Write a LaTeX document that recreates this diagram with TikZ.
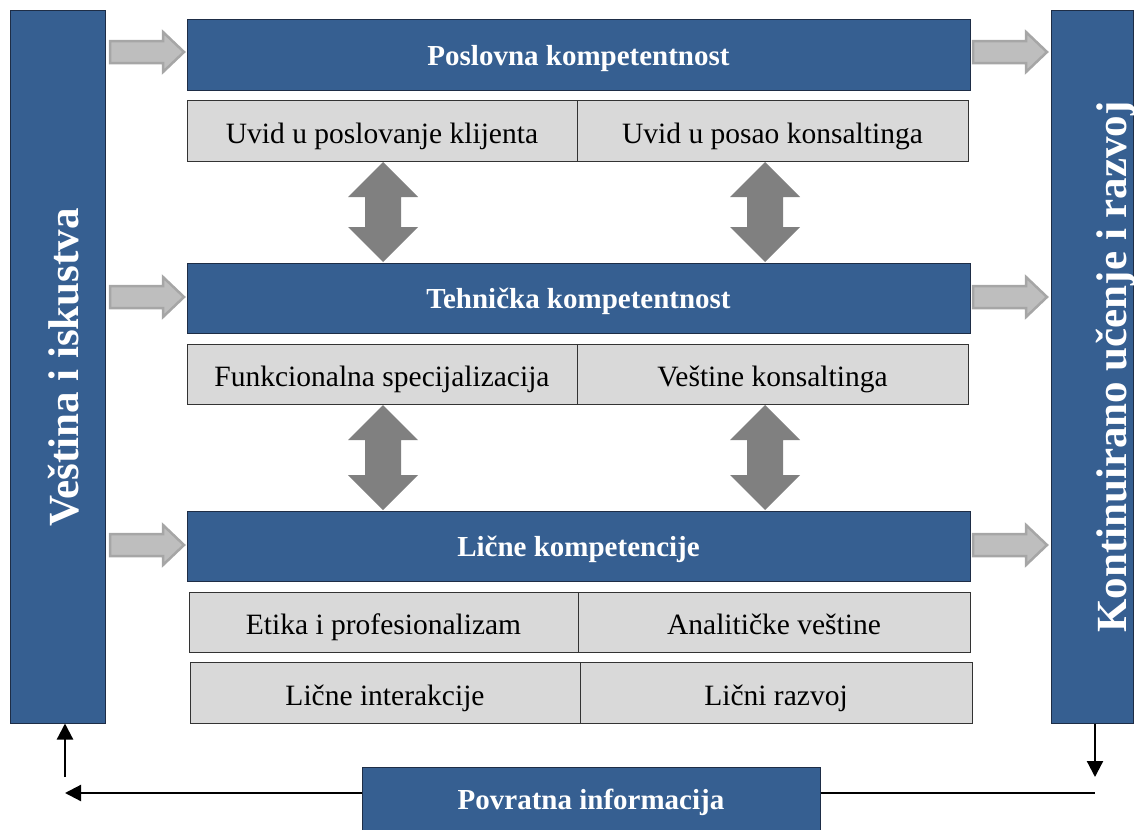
\documentclass[tikz,border=0pt]{standalone}
\usepackage{fontspec}
\setmainfont{Liberation Serif}
\usetikzlibrary{arrows.meta,positioning}
\definecolor{bluebox}{RGB}{54,95,145}
\definecolor{blueline}{RGB}{30,45,70}
\definecolor{graybox}{RGB}{217,217,217}
\definecolor{garrowfill}{RGB}{190,190,190}
\definecolor{garrowline}{RGB}{166,166,166}
\definecolor{darrowfill}{RGB}{128,128,128}
\tikzset{
  hdr/.style={draw=blueline, line width=1pt, fill=bluebox, text=white, font=\fontsize{29}{33}\selectfont\bfseries, inner sep=0pt, text height=21pt, text depth=0pt},
  side/.style={draw=blueline, line width=1pt, fill=bluebox, inner sep=0pt},
  sidetext/.style={text=white, font=\fontsize{43}{48}\selectfont\bfseries, inner sep=0pt, rotate=90, anchor=base},
  sub/.style={draw=black!80, line width=1pt, fill=graybox, font=\fontsize{29.5}{33}\selectfont, inner sep=0pt, text height=25pt, text depth=0pt},
  garrow/.style={fill=garrowfill, draw=garrowline, line width=2.5pt, line join=miter},
  darrow/.style={fill=darrowfill, draw=none},
  fb/.style={line width=2.2pt, draw=black},
  fbtip/.style={-{Triangle[length=16pt,width=16pt]}},
}
\newcommand\grarrow[2]{%
  \draw[garrow] ({#1},{#2-11}) -- ({#1+53},{#2-11}) -- ({#1+53},{#2-20}) -- ({#1+74},{#2}) -- ({#1+53},{#2+20}) -- ({#1+53},{#2+11}) -- ({#1},{#2+11}) -- cycle;}
\newcommand\vdblarrow[3]{%
  \fill[darrow] ({#1},{#2}) -- ({#1+35},{#2+35}) -- ({#1+18},{#2+35}) -- ({#1+18},{#3-35}) -- ({#1+35},{#3-35}) -- ({#1},{#3}) -- ({#1-35},{#3-35}) -- ({#1-18},{#3-35}) -- ({#1-18},{#2+35}) -- ({#1-35},{#2+35}) -- cycle;}
\begin{document}
\begin{tikzpicture}[x=1pt,y=-1pt]
\useasboundingbox (0,0) rectangle (1136,830);
% side bars
\node[side, minimum width=95pt, minimum height=713pt] (left) at (57.5,366.5) {};
\node[sidetext] (lefttext) at (78,367.5) {Veština i iskustva};
\node[side, minimum width=82pt, minimum height=713pt] (right) at (1092,366.5) {};
\node[sidetext] (righttext) at (1126,367) {Kontinuirano učenje i razvoj};
% headers
\node[hdr, minimum width=783pt, minimum height=71pt] (h1) at (578.5,54.5) {Poslovna kompetentnost};
\node[hdr, minimum width=783pt, minimum height=70pt] (h2) at (578.5,298) {Tehnička kompetentnost};
\node[hdr, minimum width=783pt, minimum height=70pt] (h3) at (578.5,546) {Lične kompetencije};
% sub boxes
\node[sub, minimum width=390pt, minimum height=61pt] (a1) at (382,130.5) {Uvid u poslovanje klijenta};
\node[sub, minimum width=391pt, minimum height=61pt] (b1) at (772.5,130.5) {Uvid u posao konsaltinga};
\node[sub, minimum width=390pt, minimum height=60pt] (a2) at (382,374) {Funkcionalna specijalizacija};
\node[sub, minimum width=391pt, minimum height=60pt] (b2) at (772.5,374) {Veštine konsaltinga};
\node[sub, minimum width=389pt, minimum height=60pt] (a3) at (383.5,622) {Etika i profesionalizam};
\node[sub, minimum width=392pt, minimum height=60pt] (b3) at (774,622) {Analitičke veštine};
\node[sub, minimum width=390pt, minimum height=61pt] (a4) at (385,692.5) {Lične interakcije};
\node[sub, minimum width=392pt, minimum height=61pt] (b4) at (776,692.5) {Lični razvoj};
% double arrows
\vdblarrow{383}{162}{262}
\vdblarrow{765}{162}{262}
\vdblarrow{383}{405}{510}
\vdblarrow{765}{405}{510}
% gray arrows
\grarrow{110}{52}
\grarrow{110}{297}
\grarrow{110}{545}
\grarrow{973}{52}
\grarrow{973}{297}
\grarrow{973}{545}
% feedback
\node[hdr, minimum width=458pt, minimum height=63pt] (fbk) at (591,798.5) {Povratna informacija};
\coordinate (lc) at (65,793);
\coordinate (lu) at (65,777);
\coordinate (rc) at (1095,793);
\coordinate (rd) at (1095,777);
\draw[fb,fbtip] (fbk.west |- lc) -- (lc);
\draw[fb,fbtip] (lu) -- (left.south -| lu);
\draw[fb] (fbk.east |- rc) -- (rc);
\draw[fb,fbtip] (right.south -| rd) -- (rd);
\end{tikzpicture}
\end{document}
